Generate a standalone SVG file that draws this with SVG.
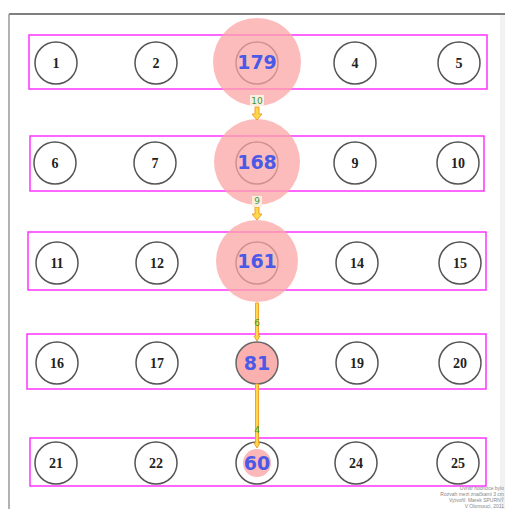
<svg xmlns="http://www.w3.org/2000/svg" width="505" height="509" viewBox="0 0 505 509">
<style>
.row{fill:none;stroke:#ff33ff;stroke-width:1.5}
.n{fill:#fff;stroke:#555;stroke-width:1.5}
.t{font-family:"Liberation Serif",serif;font-weight:bold;font-size:14px;fill:#222;text-anchor:middle;dominant-baseline:central}
.halo{fill:#fca5a5;opacity:0.75}
.big{font-family:"DejaVu Sans",sans-serif;font-weight:bold;font-size:19px;fill:#4a5ae6;text-anchor:middle;dominant-baseline:central}
.arr{fill:#ffd84a;stroke:#f0a030;stroke-width:1}
.el{font-family:"DejaVu Sans",sans-serif;font-size:9px;fill:#3a9a3a;text-anchor:middle;dominant-baseline:central}
.elbg{fill:#fbeee0}
.note{font-family:"Liberation Sans",sans-serif;font-size:5px;fill:#888;text-anchor:end}
</style>
<rect width="505" height="509" fill="#fff"/>
<g id="frame">
<line x1="9" y1="14" x2="505" y2="14" stroke="#555" stroke-width="1.5"/>
<line x1="9" y1="14" x2="9" y2="509" stroke="#999" stroke-width="1.5"/>
<rect x="500" y="15" width="5" height="494" fill="#f2f2f2"/>
</g>
<g id="rows">
<rect class="row" x="29" y="35" width="458" height="54"/>
<rect class="row" x="30" y="136" width="454" height="55"/>
<rect class="row" x="28" y="232" width="458" height="58"/>
<rect class="row" x="27" y="334" width="459" height="55"/>
<rect class="row" x="30" y="438" width="456" height="48"/>
</g>
<g id="n1"><circle class="n" cx="56" cy="63" r="21"/><text class="t" x="56" y="63">1</text></g>
<g id="n2"><circle class="n" cx="156" cy="63" r="21"/><text class="t" x="156" y="63">2</text></g>
<g id="n4"><circle class="n" cx="355" cy="63" r="21"/><text class="t" x="355" y="63">4</text></g>
<g id="n5"><circle class="n" cx="459" cy="63" r="21"/><text class="t" x="459" y="63">5</text></g>
<g id="n6"><circle class="n" cx="55" cy="163" r="21"/><text class="t" x="55" y="163">6</text></g>
<g id="n7"><circle class="n" cx="155" cy="163" r="21"/><text class="t" x="155" y="163">7</text></g>
<g id="n9"><circle class="n" cx="355" cy="163" r="21"/><text class="t" x="355" y="163">9</text></g>
<g id="n10"><circle class="n" cx="458" cy="163" r="21"/><text class="t" x="458" y="163">10</text></g>
<g id="n11"><circle class="n" cx="57" cy="263" r="21"/><text class="t" x="57" y="263">11</text></g>
<g id="n12"><circle class="n" cx="157" cy="263" r="21"/><text class="t" x="157" y="263">12</text></g>
<g id="n14"><circle class="n" cx="357" cy="263" r="21"/><text class="t" x="357" y="263">14</text></g>
<g id="n15"><circle class="n" cx="460" cy="263" r="21"/><text class="t" x="460" y="263">15</text></g>
<g id="n16"><circle class="n" cx="57" cy="363" r="21"/><text class="t" x="57" y="363">16</text></g>
<g id="n17"><circle class="n" cx="157" cy="363" r="21"/><text class="t" x="157" y="363">17</text></g>
<g id="n19"><circle class="n" cx="357" cy="363" r="21"/><text class="t" x="357" y="363">19</text></g>
<g id="n20"><circle class="n" cx="460" cy="363" r="21"/><text class="t" x="460" y="363">20</text></g>
<g id="n21"><circle class="n" cx="56" cy="463" r="21"/><text class="t" x="56" y="463">21</text></g>
<g id="n22"><circle class="n" cx="156" cy="463" r="21"/><text class="t" x="156" y="463">22</text></g>
<g id="n24"><circle class="n" cx="356" cy="463" r="21"/><text class="t" x="356" y="463">24</text></g>
<g id="n25"><circle class="n" cx="458" cy="463" r="21"/><text class="t" x="458" y="463">25</text></g>
<g id="n3"><circle class="n" cx="257" cy="63" r="21"/><circle class="halo" cx="257" cy="62" r="44"/><text class="big" x="257" y="62">179</text></g>
<g id="n8"><circle class="n" cx="257" cy="163" r="21"/><circle class="halo" cx="257" cy="162" r="43"/><text class="big" x="257" y="162">168</text></g>
<g id="n13"><circle class="n" cx="257" cy="263" r="21"/><circle class="halo" cx="257" cy="261" r="41"/><text class="big" x="257" y="261">161</text></g>
<g id="n18"><circle cx="257" cy="363" r="21" fill="#fbb0b0" stroke="#666" stroke-width="1.5"/><text class="big" x="257" y="363">81</text></g>
<g id="n23"><circle class="n" cx="257" cy="463" r="21"/><circle cx="257" cy="463" r="14" fill="#fcb8b8"/><text class="big" x="257" y="463">60</text></g>
<g id="connectors">
<path class="arr" d="M255,107 H259 V114 H262 L257,120 L252,114 H255 Z"/>
<rect class="elbg" x="250" y="95" width="14" height="11"/>
<text class="el" x="257" y="100.5">10</text>
<path class="arr" d="M255,207 H259 V214 H262 L257,220 L252,214 H255 Z"/>
<rect class="elbg" x="252" y="196" width="10" height="11"/>
<text class="el" x="257" y="201">9</text>
<path class="arr" d="M255.5,303 H258.5 V336 H260 L257,341 L254,336 H255.5 Z"/>
<text class="el" x="257" y="323">6</text>
<path class="arr" d="M255.5,384 H258.5 V443 H260 L257,448 L254,443 H255.5 Z"/>
<text class="el" x="257" y="430">4</text>
</g>
<g id="note">
<text class="note" x="504" y="490">Uvnitř hodnoce bylo</text>
<text class="note" x="504" y="496">Rozvah mezi značkami 3 cm</text>
<text class="note" x="504" y="502">Vytvořil: Marek SPURNÝ</text>
<text class="note" x="504" y="508">V Olomouci, 2011</text>
</g>
</svg>
